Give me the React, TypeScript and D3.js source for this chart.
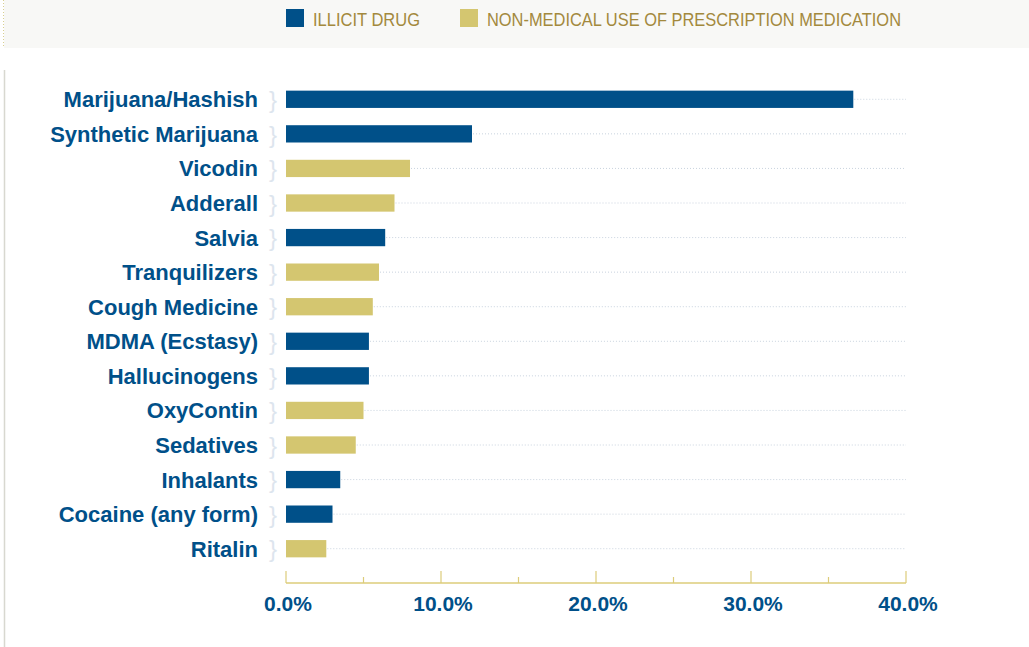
import { useEffect, useRef } from 'react';
import * as d3 from 'd3';

const drugs = [
  'Marijuana/Hashish',
  'Synthetic Marijuana',
  'Vicodin',
  'Adderall',
  'Salvia',
  'Tranquilizers',
  'Cough Medicine',
  'MDMA (Ecstasy)',
  'Hallucinogens',
  'OxyContin',
  'Sedatives',
  'Inhalants',
  'Cocaine (any form)',
  'Ritalin',
];
const usage = [36.6, 12.0, 8.0, 7.0, 6.4, 6.0, 5.6, 5.35, 5.35, 5.0, 4.5, 3.5, 3.0, 2.6];
const kind = ['illicit', 'illicit', 'rx', 'rx', 'illicit', 'rx', 'rx', 'illicit', 'illicit', 'rx', 'rx', 'illicit', 'illicit', 'rx'];
const seriesKeys = ['illicit', 'rx'];
const seriesNames = ['ILLICIT DRUG', 'NON-MEDICAL USE OF PRESCRIPTION MEDICATION'];
const tickValues = [0, 10, 20, 30, 40];

const BLUE = '#005089';
const GOLD = '#d4c670';

export default function App() {
  const ref = useRef<SVGSVGElement>(null);

  useEffect(() => {
    if (!ref.current) return;
    const width = 1029;
    const height = 647;
    const svg = d3.select(ref.current);
    svg.selectAll('*').remove();

    const font = '"Liberation Sans", Arial, sans-serif';

    // top legend band
    svg.append('rect').attr('x', 4).attr('y', 0).attr('width', width - 4).attr('height', 48).attr('fill', '#f8f8f6');
    svg.append('line').attr('x1', 3.5).attr('x2', 3.5).attr('y1', 0).attr('y2', 48)
      .attr('stroke', '#d8cf90').attr('stroke-dasharray', '1,2');
    svg.append('line').attr('x1', 4.5).attr('x2', 4.5).attr('y1', 70).attr('y2', height)
      .attr('stroke', '#d8d8d0').attr('stroke-width', 1.5);

    const color = d3.scaleOrdinal<string, string>().domain(seriesKeys).range([BLUE, GOLD]);

    const legendX = [286, 460];
    const legendW = [107, 414];
    seriesKeys.forEach((k, i) => {
      svg.append('rect').attr('x', legendX[i]).attr('y', 9).attr('width', 18).attr('height', 18).attr('fill', color(k));
      svg.append('text').attr('x', legendX[i] + 27).attr('y', 26)
        .attr('font-family', font).attr('font-size', 18).attr('fill', '#a3893d')
        .attr('textLength', legendW[i]).attr('lengthAdjust', 'spacingAndGlyphs')
        .text(seriesNames[i]);
    });

    const x = d3.scaleLinear().domain([0, 40]).range([286, 906]);
    const y = d3.scaleBand().domain(drugs).range([82, 566]).paddingInner(0.5).paddingOuter(0.25);

    const rows = svg.append('g').selectAll('g').data(drugs).join('g')
      .attr('transform', d => `translate(0,${y(d)})`);

    // dotted guide lines
    rows.append('line')
      .attr('x1', (_, i) => x(usage[i]) + 1).attr('x2', x(40))
      .attr('y1', y.bandwidth() / 2).attr('y2', y.bandwidth() / 2)
      .attr('stroke', '#c9d3de').attr('stroke-width', 1).attr('stroke-dasharray', '1,2');

    rows.append('rect')
      .attr('x', x(0)).attr('y', 0)
      .attr('width', (_, i) => x(usage[i]) - x(0)).attr('height', y.bandwidth())
      .attr('fill', (_, i) => color(kind[i]));

    rows.append('text')
      .attr('x', 273).attr('y', y.bandwidth() / 2).attr('dy', '0.36em')
      .attr('text-anchor', 'middle').attr('font-family', font).attr('font-size', 24)
      .attr('fill', '#dde5ee').text('}');

    rows.append('text')
      .attr('x', 258).attr('y', y.bandwidth() / 2).attr('dy', '0.36em')
      .attr('text-anchor', 'end').attr('font-family', font).attr('font-weight', 'bold')
      .attr('font-size', 22).attr('fill', BLUE).text(d => d);

    // axis
    const axisY = 583;
    const ax = svg.append('g');
    ax.append('line').attr('x1', x(0)).attr('x2', x(40)).attr('y1', axisY).attr('y2', axisY)
      .attr('stroke', '#dccc7a').attr('stroke-width', 1.5);
    ax.selectAll('line.tick').data(d3.range(0, 41, 5)).join('line').attr('class', 'tick')
      .attr('x1', d => x(d)).attr('x2', d => x(d))
      .attr('y1', d => (d % 10 === 0 ? axisY - 12 : axisY - 6)).attr('y2', axisY)
      .attr('stroke', '#dccc7a').attr('stroke-width', 1.2);
    ax.selectAll('text').data(tickValues).join('text')
      .attr('x', d => x(d) + 2).attr('y', 611).attr('text-anchor', 'middle')
      .attr('font-family', font).attr('font-weight', 'bold').attr('font-size', 21)
      .attr('fill', BLUE)
      .text(d => d3.format('.1f')(d) + '%');
  }, []);

  return (
    <svg ref={ref} width={1029} height={647}
      style={{ position: 'absolute', left: 0, top: 0, background: '#fff' }} />
  );
}
